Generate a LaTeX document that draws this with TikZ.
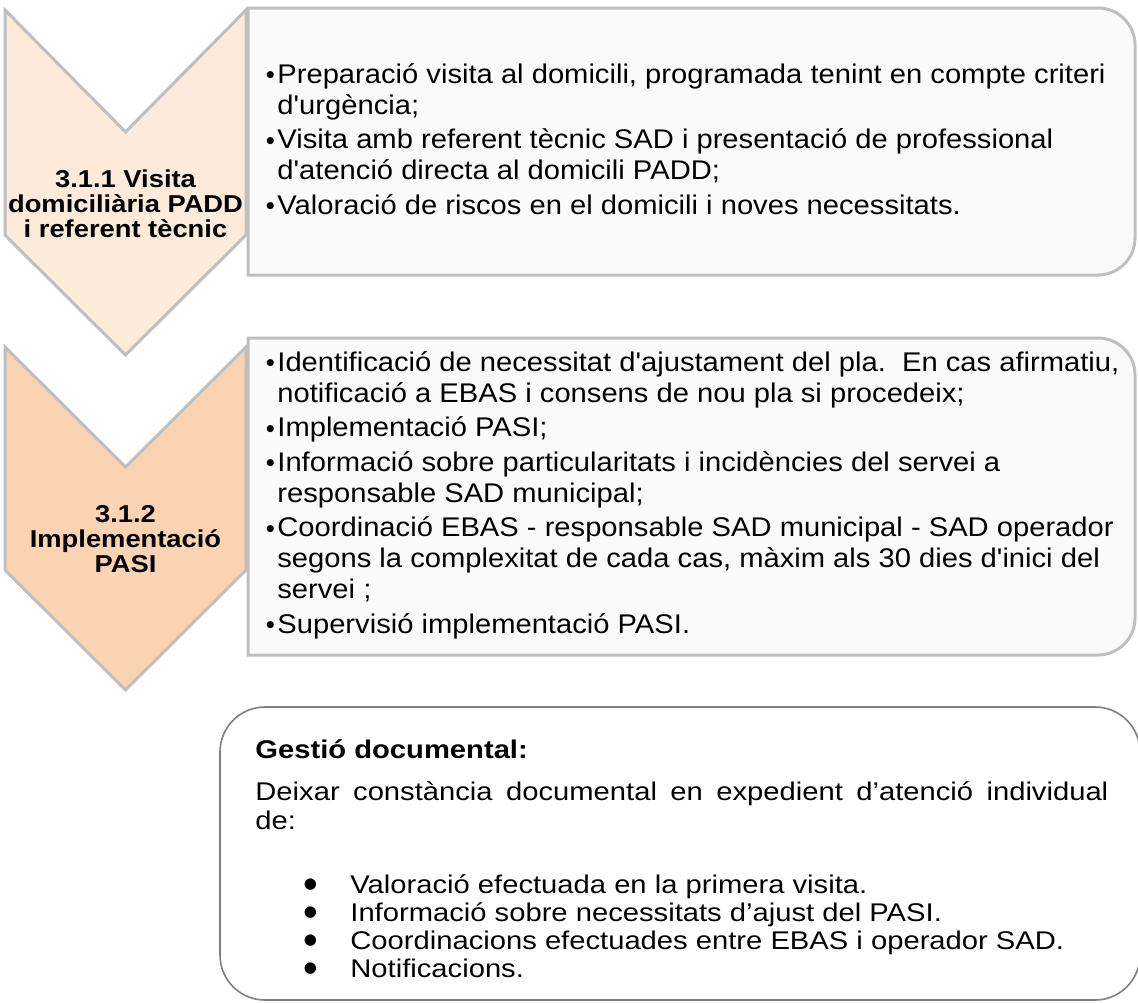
\documentclass[tikz,border=0pt]{standalone}
\usepackage{fontspec}
\setmainfont{Liberation Sans}
\newfontfamily\chevfont{Liberation Sans}[FakeStretch=1.12]
\newfontfamily\bodyfont{Liberation Sans}[FakeStretch=1.08]
\newfontfamily\notefont{Liberation Sans}[FakeStretch=1.14]
\newfontfamily\dotfont{DejaVu Sans}

\definecolor{stepOne}{HTML}{FCEADB}
\definecolor{stepTwo}{HTML}{FAD3B2}
\definecolor{panelFill}{HTML}{FAFAFA}
\definecolor{panelLine}{HTML}{BFBFBF}
\definecolor{noteLine}{HTML}{7F7F7F}

% small hanging bullet for the step panels
\newcommand\stepitem{\leavevmode\llap{\makebox[5pt][c]{\raisebox{2.6pt}{\dotfont\fontsize{4.6}{5}\selectfont ●}}\hspace{1pt}}}
% larger hanging bullet for the note list
\newcommand\noteitem{\leavevmode\llap{\makebox[20pt][c]{\raisebox{2.2pt}{\dotfont\fontsize{7.5}{8}\selectfont ●}}\hspace{10pt}}}
\newcommand\stepbody{\bodyfont\fontsize{13.5}{15.5}\selectfont\raggedright
  \setlength\parindent{0pt}\setlength\parskip{1.75pt}}

\begin{document}
\begin{tikzpicture}[x=0.5pt,y=0.5pt,
  chevron/.style={draw=panelLine, line width=1.5pt, line join=miter},
  panel/.style={draw=panelLine, fill=panelFill, line width=1.5pt},
  notebox/.style={draw=noteLine, fill=white, line width=0.8pt, rounded corners=22.5pt},
  steplabel/.style={inner sep=0pt, anchor=base, font=\chevfont\bfseries\fontsize{12.2}{12.5}\selectfont},
  steptext/.style={inner sep=0pt, anchor=base west},
  notetext/.style={inner sep=0pt, anchor=base west, font=\notefont\fontsize{12.8}{14}\selectfont}]

\path[use as bounding box] (0,0) rectangle (1138,-1002);
\clip (0,0) rectangle (1138,-1002);

% step chevrons
\draw[chevron, fill=stepOne] (5,-10) -- (125.5,-132) -- (246,-10) -- (246,-235)
  -- (125.5,-355) -- (5,-235) -- cycle;
\draw[chevron, fill=stepTwo] (5,-347) -- (125.5,-467) -- (246,-347) -- (246,-570)
  -- (125.5,-690) -- (5,-570) -- cycle;

% step panels, rounded on the right only
\draw[panel] (248,-275) -- (248,-8) -- (1098,-8)
  arc[start angle=90, end angle=0, radius=18.5pt] -- (1135,-238)
  arc[start angle=0, end angle=-90, radius=18.5pt] -- cycle;
\draw[panel] (248,-655) -- (248,-338) -- (1098,-338)
  arc[start angle=90, end angle=0, radius=18.5pt] -- (1135,-618)
  arc[start angle=0, end angle=-90, radius=18.5pt] -- cycle;

% note box
\draw[notebox] (220,-707) rectangle (1140,-1000);

% chevron labels
\node[steplabel] (label1) at (125.5,-187)
  {\parbox[t]{120pt}{\centering 3.1.1 Visita\\ domiciliària PADD\\ i referent tècnic}};
\node[steplabel] (label2) at (125.5,-522)
  {\parbox[t]{120pt}{\centering 3.1.2\\ Implementació\\ PASI}};

% panel texts
\node[steptext] (steps1) at (277,-83) {\parbox[t]{440pt}{\stepbody
  \stepitem Preparació visita al domicili, programada tenint en compte criteri\\
  d'urgència;\par
  \stepitem Visita amb referent tècnic SAD i presentació de professional\\
  d'atenció directa al domicili PADD;\par
  \stepitem Valoració de riscos en el domicili i noves necessitats.}};

\node[steptext] (steps2) at (277,-371) {\parbox[t]{440pt}{\stepbody
  \stepitem Identificació de necessitat d'ajustament del pla.\ \ En cas afirmatiu,\\
  notificació a EBAS i consens de nou pla si procedeix;\par
  \stepitem Implementació PASI;\par
  \stepitem Informació sobre particularitats i incidències del servei a\\
  responsable SAD municipal;\par
  \stepitem Coordinació EBAS - responsable SAD municipal - SAD operador\\
  segons la complexitat de cada cas, màxim als 30 dies d'inici del\\
  servei ;\par
  \stepitem Supervisió implementació PASI.}};

% note text
\node[notetext, font=\notefont\bfseries\fontsize{12.8}{14}\selectfont] (notehead) at (255,-758) {Gestió documental:};
\node[notetext] (noteline1) at (255,-800)
  {\makebox[426.5pt][s]{Deixar constància documental en expedient d’atenció individual}};
\node[notetext] (noteline2) at (255,-829) {de:};
\node[notetext] (notelist) at (350,-893) {\parbox[t]{380pt}{\raggedright
  \noteitem Valoració efectuada en la primera visita.\\
  \noteitem Informació sobre necessitats d’ajust del PASI.\\
  \noteitem Coordinacions efectuades entre EBAS i operador SAD.\\
  \noteitem Notificacions.}};
\end{tikzpicture}
\end{document}
